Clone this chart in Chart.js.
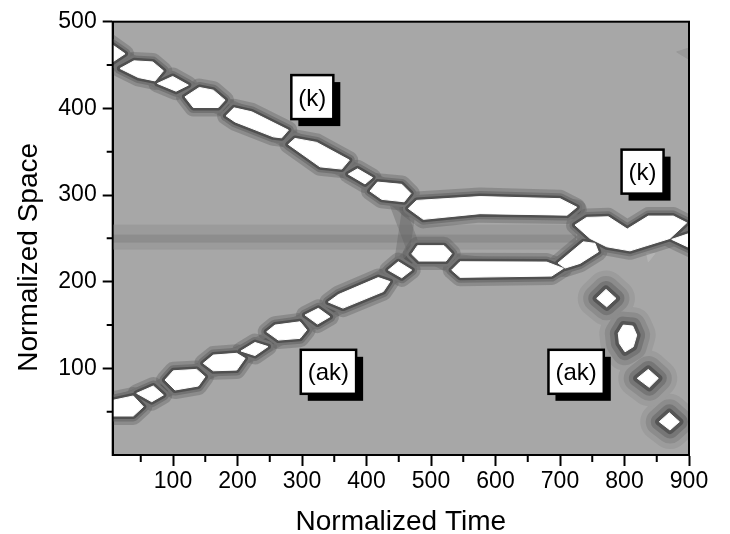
<!DOCTYPE html>
<html>
<head>
<meta charset="utf-8">
<script src="https://cdn.jsdelivr.net/npm/chart.js@4.4.0/dist/chart.umd.min.js"></script>
<style>
  html, body { margin: 0; padding: 0; background: #fff; }
</style>
</head>
<body>
<canvas id="soliton-chart" width="730" height="534"></canvas>
<script>
const xTicks = [100, 200, 300, 400, 500, 600, 700, 800, 900];
const xMinorTicks = [50, 150, 250, 350, 450, 550, 650, 750, 850];
const yTicks = [100, 200, 300, 400, 500];
const yMinorTicks = [50, 150, 250, 350, 450];
const timeRange = [6.5, 900];
const spaceRange = [0, 500];

// bright (white) contour regions, [time, space] vertices
const kTrackBlobs = [
  [[-5, 479], [25.6, 463], [-5, 448]],
  [[17.8, 446], [39.5, 454.8], [68.5, 453.6], [85, 443.3], [72.1, 431.7], [46.2, 435.6]],
  [[75.7, 428.7], [99.5, 436.8], [123.7, 426.8], [104.7, 419.8]],
  [[118.6, 413.3], [140.8, 424.1], [162.5, 421], [180.6, 409.5], [170.2, 401], [131.5, 401]],
  [[182.2, 391.4], [194.6, 400.6], [222, 396], [278.8, 374.9], [268.5, 366], [255.5, 367.1], [196.1, 384.4]],
  [[278.8, 358.4], [289.1, 365.3], [322.8, 360.7], [373.3, 340.3], [361.6, 329.9], [327.9, 332.5]],
  [[371.8, 324.1], [386, 330.2], [409.3, 320.1], [397.7, 312.8]],
  [[405.4, 304.5], [417.1, 314.9], [454.6, 312.3], [468.7, 301.8], [458.4, 292.2], [423.6, 295]],
];
const akTrackBlobs = [
  [[-13, 60], [38.4, 68.1], [54, 55.7], [38.4, 45], [-13, 45]],
  [[43.7, 71.2], [69.5, 79.6], [85, 69.2], [67, 61.5]],
  [[87.6, 86.5], [100.5, 97.2], [136.7, 98.8], [149.6, 90.3], [139.2, 79.6], [103.1, 75]],
  [[147, 105.8], [162.5, 115.3], [198.8, 117.3], [211.6, 111.5], [198.8, 98], [162.5, 97.2]],
  [[205.4, 120], [227.1, 129.8], [247.3, 125.1], [227.1, 114.8]],
  [[245.3, 142.2], [258.1, 149.9], [296.9, 153.7], [307.3, 144.2], [296.9, 134.6], [263.3, 132.6]],
  [[304.7, 161.5], [325.3, 169.2], [343.4, 159.5], [324, 151.1]],
  [[340.8, 176.5], [356.6, 185.1], [418.3, 204.7], [436.4, 200.1], [426, 188.6], [363.6, 169.5]],
  [[433.8, 213.4], [449.3, 223], [470.1, 213.4], [454.6, 204.5]],
];
const interactionBlobs = [
  [[464.8, 284.5], [477.8, 293.8], [576, 298.2], [700, 295.8], [725.9, 286], [710.9, 276.8], [576, 278.5], [488.1, 271.9]],
  [[470.1, 231.8], [479.1, 241.6], [520.2, 241.6], [532.1, 232.4], [523.3, 223.8], [481.1, 223.8]],
  [[532.1, 213.4], [545, 223], [679.4, 222.6], [705.1, 215.3], [687.1, 206.5], [545, 205]],
  [[696.9, 221.5], [736.1, 246], [754.3, 244.2], [759.4, 234.5], [731, 221.1], [707.8, 215.7]],
  [[723.3, 265.3], [741.4, 274.2], [774.9, 274.9], [804.3, 260.7], [836.9, 275.7], [875.7, 275.7], [896.4, 267.9], [870.5, 249.9], [808.5, 235.6], [772.4, 240.3], [746.5, 249.9]],
  [[873.2, 248.8], [910, 258], [910, 236]],
];
const radiatedSpots = [
  [[756.9, 180.7], [771.3, 191.1], [786.8, 180.7], [772.4, 171]],
  [[790.4, 140.4], [798.1, 149.9], [812.7, 148.8], [818.9, 138.4], [813.6, 124.9], [800.8, 119.1], [792.1, 128.8]],
  [[819.8, 88.5], [836.9, 98.8], [852.4, 88.5], [838.4, 78.1]],
  [[853.9, 38.4], [869.5, 48.8], [885, 38.4], [870.5, 28.8]],
];
const kRidge = [[0, 468], [50, 443], [100, 428], [150, 412], [230, 384], [325, 347], [390, 322], [438, 303], [466, 286], [520, 287], [600, 288], [700, 286], [726, 283]];
const akRidge = [[0, 54], [64, 70], [119, 88], [181, 107], [227, 122], [277, 143], [325, 160], [388, 187], [452, 214], [475, 232], [500, 233], [532, 221], [615, 214], [697, 216], [732, 232], [756, 244], [775, 252], [805, 248], [840, 258], [876, 262], [900, 258]];
const crossRidges = [[[440, 303], [474, 236]], [[452, 214], [466, 284]]];
const bandOuter = [[0, 237.6], [724, 237.6], [724, 265.3], [0, 265.3]];
const bandInner = [[0, 245.7], [724, 245.7], [724, 253.7], [0, 253.7]];
const paleSpots = [
  [[746.5, 161.5], [797.7, 159.5], [772.4, 153.8]],
  [[834.4, 232.6], [847.3, 232.6], [836.9, 222.9]],
];
const shadedSpots = [[[880.9, 465.1], [910, 472], [910, 452]]];
const labelText = ['(k)', '(k)', '(ak)', '(ak)'];
const labelTime = [316, 828, 341, 725];
const labelSpace = [413, 327, 96, 96];

const FONT = "'Liberation Sans', Arial, Helvetica, sans-serif";

const datasets = [];
const closed = (poly) => {
  const pts = poly.map(([x, y]) => ({ x, y }));
  pts.push(pts[0]);
  return pts;
};
const open = (path) => path.map(([x, y]) => ({ x, y }));

const addFill = (poly, color, order) => datasets.push({
  data: closed(poly), fill: 'shape', backgroundColor: color,
  borderColor: color, borderWidth: 1, order,
});
const addStroke = (pts, color, width, order) => datasets.push({
  data: pts, fill: false, borderColor: color, borderWidth: width,
  borderJoinStyle: 'round', borderCapStyle: 'round', order,
});

addFill(bandOuter, '#9b9b9b', 100);
addFill(bandInner, '#8d8d8d', 99);
paleSpots.forEach(p => addFill(p, '#b4b4b4', 98));
shadedSpots.forEach(p => addFill(p, '#999999', 98));

// soft rings round the isolated radiation spots
[[38, '#9c9c9c'], [27, '#8c8c8c'], [17, '#767676'], [8, '#555555']].forEach(([w, c], i) => {
  radiatedSpots.forEach(p => addStroke(closed(p), c, w, 90 - i));
});

// crossing shadow and dark ridges along the trajectories
crossRidges.forEach(r => addStroke(open(r), 'rgba(95,95,95,0.35)', 14, 82));
[[20, 'rgba(100,100,100,0.4)'], [9, '#5a5a5a']].forEach(([w, c], i) => {
  [kRidge, akRidge].forEach(r => addStroke(open(r), c, w, 80 - i));
});

const trackBlobs = [...kTrackBlobs, ...akTrackBlobs, ...interactionBlobs];
[[18, 'rgba(90,90,90,0.35)'], [11, '#737373'], [6, '#505050']].forEach(([w, c], i) => {
  trackBlobs.forEach(p => addStroke(closed(p), c, w, 70 - i));
});

[...trackBlobs, ...radiatedSpots].forEach(p => addFill(p, '#ffffff', 0));

const framePlugin = {
  id: 'frame',
  beforeDraw(chart) {
    const { ctx, chartArea: a } = chart;
    ctx.save();
    ctx.fillStyle = '#a7a7a7';
    ctx.fillRect(a.left, a.top, a.width, a.height);
    ctx.restore();
  },
  afterDraw(chart) {
    const { ctx, chartArea: a, scales } = chart;
    const { x, y } = scales;
    ctx.save();
    ctx.strokeStyle = '#000';
    ctx.lineWidth = 2;
    ctx.strokeRect(a.left, a.top, a.width, a.height);

    ctx.beginPath();
    xMinorTicks.forEach(v => {
      const px = x.getPixelForValue(v);
      ctx.moveTo(px, a.bottom);
      ctx.lineTo(px, a.bottom + 7);
    });
    yMinorTicks.forEach(v => {
      const py = y.getPixelForValue(v);
      ctx.moveTo(a.left, py);
      ctx.lineTo(a.left - 6, py);
    });
    ctx.stroke();

    ctx.fillStyle = '#000';
    ctx.font = `28px ${FONT}`;
    ctx.textAlign = 'center';
    ctx.textBaseline = 'alphabetic';
    ctx.fillText('Normalized Time', (a.left + a.right) / 2, a.bottom + 75);
    ctx.save();
    ctx.translate(a.left - 76, (a.top + a.bottom) / 2 + 19);
    ctx.rotate(-Math.PI / 2);
    ctx.fillText('Normalized Space', 0, 0);
    ctx.restore();

    labelText.forEach((t, i) => {
      const cx = x.getPixelForValue(labelTime[i]);
      const cy = y.getPixelForValue(labelSpace[i]);
      ctx.font = `24px ${FONT}`;
      const w = ctx.measureText(t).width + 14;
      const h = 44;
      const l = cx - w / 2;
      const tp = cy - h / 2;
      ctx.fillStyle = '#000';
      ctx.fillRect(l + 7, tp + 7, w, h);
      ctx.fillStyle = '#fff';
      ctx.fillRect(l, tp, w, h);
      ctx.lineWidth = 2.5;
      ctx.strokeStyle = '#000';
      ctx.strokeRect(l, tp, w, h);
      ctx.fillStyle = '#000';
      ctx.textAlign = 'center';
      ctx.textBaseline = 'middle';
      ctx.fillText(t, cx, cy + 2);
    });
    ctx.restore();
  },
};

new Chart(document.getElementById('soliton-chart'), {
  type: 'line',
  data: { datasets },
  plugins: [framePlugin],
  options: {
    responsive: false,
    animation: false,
    events: [],
    devicePixelRatio: 1,
    layout: { padding: { top: 21.7, right: 41, bottom: 0, left: 0 } },
    datasets: { line: { pointRadius: 0, tension: 0, clip: 0, spanGaps: true } },
    plugins: { legend: { display: false }, tooltip: { enabled: false } },
    scales: {
      x: {
        type: 'linear',
        min: timeRange[0],
        max: timeRange[1],
        afterBuildTicks: s => { s.ticks = xTicks.map(value => ({ value })); },
        afterFit: s => { s.height = 79; },
        grid: { drawOnChartArea: false, tickLength: 11, tickColor: '#000', tickWidth: 2 },
        border: { color: '#000', width: 2 },
        ticks: { color: '#000', font: { family: FONT, size: 23 }, padding: 2, maxRotation: 0, autoSkip: false },
      },
      y: {
        type: 'linear',
        min: spaceRange[0],
        max: spaceRange[1],
        afterBuildTicks: s => { s.ticks = yTicks.map(value => ({ value })); },
        afterFit: s => { s.width = 112.7; },
        grid: { drawOnChartArea: false, tickLength: 10, tickColor: '#000', tickWidth: 2 },
        border: { color: '#000', width: 2 },
        ticks: { color: '#000', font: { family: FONT, size: 23 }, padding: 6, autoSkip: false },
      },
    },
  },
});
</script>
</body>
</html>
